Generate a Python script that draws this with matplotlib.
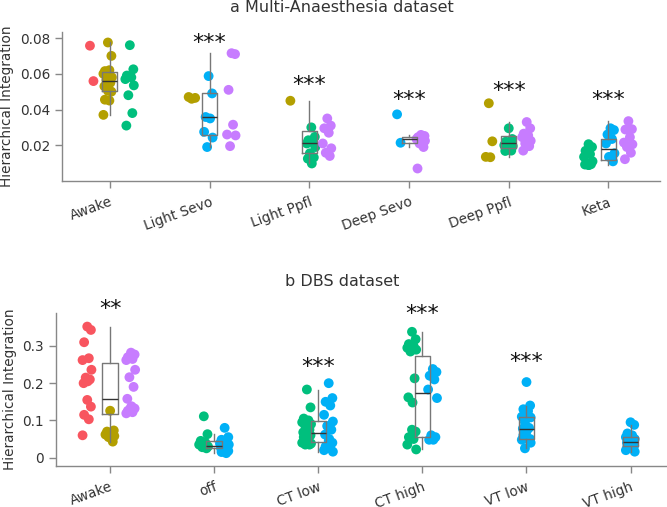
import matplotlib

matplotlib.use("Agg")

import matplotlib.pyplot as plt

RED = "#F8555F"
OLIVE = "#B39F00"
GREEN = "#00BF7D"
BLUE = "#00B0F6"
PURPLE = "#C77CFF"

# panel a: Multi-Anaesthesia dataset
a_categories = ["Awake", "Light Sevo", "Light Ppfl", "Deep Sevo", "Deep Ppfl", "Keta"]
a_stars = ["", "***", "***", "***", "***", "***"]
a_star_y = [None, 0.0806, 0.0576, 0.0492, 0.0542, 0.0492]

a_awake_red = [0.0757, 0.0559]
a_awake_olive = [0.0775, 0.070, 0.0615, 0.062, 0.060, 0.058, 0.0565, 0.055,
                 0.053, 0.052, 0.0505, 0.050, 0.0455, 0.045, 0.037]
a_awake_green = [0.076, 0.0625, 0.059, 0.058, 0.057, 0.0535, 0.048, 0.038, 0.031]

a_lsevo_olive = [0.046, 0.0465, 0.047]
a_lsevo_blue = [0.0587, 0.049, 0.0358, 0.035, 0.0275, 0.0243, 0.019]
a_lsevo_purple = [0.0715, 0.071, 0.051, 0.0315, 0.026, 0.0255, 0.0195]

a_lppfl_olive = [0.0449]
a_lppfl_green = [0.030, 0.0247, 0.0228, 0.0217, 0.021, 0.019, 0.0155, 0.0132, 0.0125, 0.0098]
a_lppfl_purple = [0.035, 0.031, 0.0295, 0.027, 0.021, 0.0183, 0.0158, 0.014]

a_dsevo_blue = [0.0373, 0.0214]
a_dsevo_purple = [0.0258, 0.0252, 0.0245, 0.024, 0.0235, 0.0225, 0.021, 0.019, 0.007]

a_dppfl_olive = [0.0435, 0.0222, 0.0135, 0.0133]
a_dppfl_green = [0.0295, 0.0235, 0.022, 0.0205, 0.020, 0.0195, 0.018, 0.017, 0.0168]
a_dppfl_purple = [0.033, 0.0295, 0.0265, 0.0255, 0.0245, 0.0225, 0.021, 0.0195, 0.017]

a_keta_green = [0.0206, 0.019, 0.0169, 0.015, 0.0135, 0.011, 0.0098, 0.0094, 0.0092, 0.009, 0.0089]
a_keta_blue = [0.0295, 0.0285, 0.026, 0.0235, 0.021, 0.0155, 0.0135, 0.011]
a_keta_purple = [0.0335, 0.029, 0.0288, 0.0245, 0.0215, 0.0205, 0.019, 0.0158, 0.0122]

# panel b: DBS dataset
b_categories = ["Awake", "off", "CT low", "CT high", "VT low", "VT high"]
b_stars = ["**", "", "***", "***", "***", ""]
b_star_y = [0.4166, None, 0.261, 0.402, 0.274, None]

b_awake_red = [0.352, 0.343, 0.31, 0.267, 0.262, 0.236, 0.215, 0.21, 0.2, 0.205,
               0.155, 0.137, 0.115, 0.103, 0.06]
b_awake_olive = [0.126, 0.073, 0.07, 0.065, 0.062, 0.058, 0.055, 0.043]
b_awake_purple = [0.282, 0.277, 0.27, 0.265, 0.262, 0.236, 0.216, 0.19, 0.158,
                  0.138, 0.135, 0.132, 0.126, 0.122, 0.119]

b_off_green = [0.111, 0.063, 0.045, 0.04, 0.035, 0.03, 0.028, 0.025]
b_off_blue = [0.08, 0.055, 0.048, 0.042, 0.038, 0.035, 0.03, 0.028, 0.025,
              0.022, 0.02, 0.018, 0.015, 0.012]

b_ctlow_green = [0.183, 0.135, 0.105, 0.1, 0.095, 0.09, 0.085, 0.075, 0.068, 0.065,
                 0.06, 0.06, 0.055, 0.045, 0.04, 0.038, 0.035, 0.035]
b_ctlow_blue = [0.2, 0.16, 0.15, 0.14, 0.115, 0.097, 0.085, 0.075, 0.062, 0.05,
                0.045, 0.04, 0.03, 0.025, 0.02, 0.016]

b_cthigh_green = [0.338, 0.318, 0.305, 0.3, 0.295, 0.29, 0.285, 0.213, 0.162, 0.148,
                  0.075, 0.07, 0.055, 0.05, 0.035, 0.022]
b_cthigh_blue = [0.238, 0.23, 0.22, 0.21, 0.183, 0.16, 0.06, 0.055, 0.048, 0.048]

b_vtlow_blue = [0.203, 0.14, 0.13, 0.125, 0.11, 0.108, 0.095, 0.08, 0.078, 0.075,
                0.07, 0.05, 0.06, 0.05, 0.048, 0.04, 0.025]

b_vthigh_blue = [0.095, 0.088, 0.065, 0.06, 0.055, 0.05, 0.045, 0.042, 0.04, 0.038,
                 0.035, 0.032, 0.03, 0.025, 0.02, 0.016]

# (values, colour, horizontal offset from category centre)
a_groups = [
    [(a_awake_red, RED, -0.20), (a_awake_olive, OLIVE, -0.02), (a_awake_green, GREEN, 0.20)],
    [(a_lsevo_olive, OLIVE, -0.18), (a_lsevo_blue, BLUE, -0.01), (a_lsevo_purple, PURPLE, 0.22)],
    [(a_lppfl_olive, OLIVE, -0.19), (a_lppfl_green, GREEN, 0.02), (a_lppfl_purple, PURPLE, 0.18)],
    [(a_dsevo_blue, BLUE, -0.12), (a_dsevo_purple, PURPLE, 0.12)],
    [(a_dppfl_olive, OLIVE, -0.20), (a_dppfl_green, GREEN, 0.0), (a_dppfl_purple, PURPLE, 0.18)],
    [(a_keta_green, GREEN, -0.20), (a_keta_blue, BLUE, 0.02), (a_keta_purple, PURPLE, 0.20)],
]
b_groups = [
    [(b_awake_red, RED, -0.22), (b_awake_olive, OLIVE, 0.0), (b_awake_purple, PURPLE, 0.20)],
    [(b_off_green, GREEN, -0.10), (b_off_blue, BLUE, 0.10)],
    [(b_ctlow_green, GREEN, -0.11), (b_ctlow_blue, BLUE, 0.10)],
    [(b_cthigh_green, GREEN, -0.10), (b_cthigh_blue, BLUE, 0.10)],
    [(b_vtlow_blue, BLUE, 0.0)],
    [(b_vthigh_blue, BLUE, 0.0)],
]

JITTER = [0.0, 0.035, -0.03, 0.015, -0.045, 0.04, -0.015, 0.025, -0.035, 0.005]

TEXT = "#333333"
AXIS = "#888888"


def draw_panel(ax, categories, groups, stars, star_y, ylim, xlim, yticks, yticklabels):
    for i, cat_groups in enumerate(groups):
        for values, color, offset in cat_groups:
            xs = [i + offset + JITTER[k % len(JITTER)] for k in range(len(values))]
            ax.scatter(xs, values, s=50, color=color, edgecolors="none", zorder=2)

    all_values = [sum((list(v) for v, _, _ in g), []) for g in groups]
    ax.boxplot(
        all_values,
        positions=range(len(categories)),
        widths=0.15,
        showfliers=False,
        showcaps=False,
        boxprops={"color": "#777777", "linewidth": 1.0},
        whiskerprops={"color": "#777777", "linewidth": 1.0},
        medianprops={"color": "#333333", "linewidth": 1.0},
        zorder=3,
    )

    for i, (s, y) in enumerate(zip(stars, star_y)):
        if s:
            ax.annotate(s, (i, y), xytext=(0, -9), textcoords="offset points",
                        ha="center", va="baseline", fontsize=16, color="#111111",
                        annotation_clip=False)

    ax.set_xlim(*xlim)
    ax.set_ylim(*ylim)
    ax.set_xticks(range(len(categories)))
    ax.set_xticklabels(categories, rotation=20, ha="right", rotation_mode="anchor")
    ax.set_yticks(yticks)
    ax.set_yticklabels(yticklabels)
    ax.set_ylabel("Hierarchical Integration", fontsize=9.8, color=TEXT)
    for side in ("top", "right"):
        ax.spines[side].set_visible(False)
    for side in ("left", "bottom"):
        ax.spines[side].set_color(AXIS)
        ax.spines[side].set_linewidth(1.0)
    ax.tick_params(axis="both", colors=AXIS, labelcolor=TEXT, labelsize=9.8, length=5, width=1)
    ax.tick_params(axis="x", pad=5)


fig = plt.figure(figsize=(6.67, 5.07), dpi=100)
ax_a = fig.add_axes([0.093, 0.643, 0.897, 0.294])
ax_b = fig.add_axes([0.084, 0.081, 0.916, 0.302])

draw_panel(ax_a, a_categories, a_groups, a_stars, a_star_y,
           (0.0, 0.0834), (-0.48, 5.52),
           [0.02, 0.04, 0.06, 0.08], ["0.02", "0.04", "0.06", "0.08"])
draw_panel(ax_b, b_categories, b_groups, b_stars, b_star_y,
           (-0.0223, 0.389), (-0.52, 5.35),
           [0, 0.1, 0.2, 0.3], ["0", "0.1", "0.2", "0.3"])

fig.text(0.513, 1 - 8 / 507, "a Multi-Anaesthesia dataset", ha="center", va="center",
         fontsize=11.5, color=TEXT)
fig.text(0.513, 1 - 281 / 507, "b DBS dataset", ha="center", va="center",
         fontsize=11.5, color=TEXT)

fig.savefig("out.png", dpi=100)
